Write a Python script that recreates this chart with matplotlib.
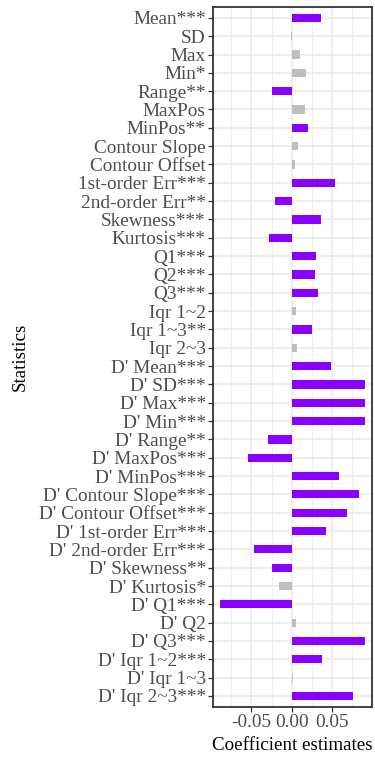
import matplotlib
matplotlib.use("Agg")
import numpy as np
from matplotlib import pyplot as plt
from matplotlib.ticker import MultipleLocator

# stats in plot order, top to bottom
stats = ["Mean", "SD", "Max", "Min", "Range", "MaxPos", "MinPos",
         "Contour Slope", "Contour Offset", "1st-order Err", "2nd-order Err",
         "Skewness", "Kurtosis", "Q1", "Q2", "Q3", "Iqr 1~2", "Iqr 1~3", "Iqr 2~3",
         "D' Mean", "D' SD", "D' Max", "D' Min", "D' Range", "D' MaxPos",
         "D' MinPos", "D' Contour Slope", "D' Contour Offset", "D' 1st-order Err",
         "D' 2nd-order Err", "D' Skewness", "D' Kurtosis", "D' Q1", "D' Q2",
         "D' Q3", "D' Iqr 1~2", "D' Iqr 1~3", "D' Iqr 2~3"]
stars = ["***", "", "", "*", "**", "", "**",
         "", "", "***", "**",
         "***", "***", "***", "***", "***", "", "**", "",
         "***", "***", "***", "***", "**", "***",
         "***", "***", "***", "***",
         "***", "**", "*", "***", "",
         "***", "***", "", "***"]
coef = [0.0358, -0.0005, 0.0100, 0.0179, -0.0246, 0.0166, 0.0200,
        0.0075, 0.0040, 0.0540, -0.0213,
        0.0360, -0.0280, 0.0304, 0.0290, 0.0325, 0.0054, 0.0254, 0.0063,
        0.0490, 0.0910, 0.0910, 0.0904, -0.0296, -0.0538,
        0.0579, 0.0837, 0.0690, 0.0425,
        -0.0467, -0.0246, -0.0159, -0.0888, 0.0050,
        0.0904, 0.0370, 0.0010, 0.0758]

purple = "#8A00FF"
grey = "#BEBEBE"

plt.rcParams['font.family'] = ['Liberation Serif', 'DejaVu Serif']

labels = [s + st for s, st in zip(stats, stars)]
colors = [purple if st in ("**", "***") else grey for st in stars]
n = len(stats)
ypos = np.arange(n, 0, -1)

fig = plt.figure(figsize=(3.75, 7.61), dpi=100)
ax = fig.add_axes([0.568, 0.071, 0.425, 0.920])

ax.barh(ypos, coef, height=0.45, color=colors, zorder=3)

ax.set_xlim(-0.0975, 0.0998)
ax.set_ylim(0.4, n + 0.6)
ax.set_yticks(ypos)
ax.set_yticklabels(labels)
ax.xaxis.set_minor_locator(MultipleLocator(0.025))
ax.set_xticks([-0.05, 0.0, 0.05])
ax.set_xticklabels(["-0.05", "0.00", "0.05"])

ax.grid(True, which='major', color='#EBEBEB', linewidth=1.2, zorder=0)
ax.grid(True, which='minor', axis='x', color='#EBEBEB', linewidth=0.6, zorder=0)
ax.set_axisbelow(True)

for sp in ax.spines.values():
    sp.set_color('#333333')
    sp.set_linewidth(1.3)

ax.tick_params(axis='both', which='major', length=3.6, width=0.9, color='#333333',
               labelsize=13.9, labelcolor='#4D4D4D', pad=1.6)
ax.tick_params(axis='x', which='minor', length=0)

ax.set_xlabel("Coefficient estimates", fontsize=13.7, labelpad=4)
ax.set_ylabel("Statistics", fontsize=13.7, labelpad=7)

fig.savefig("out.png", dpi=100)
